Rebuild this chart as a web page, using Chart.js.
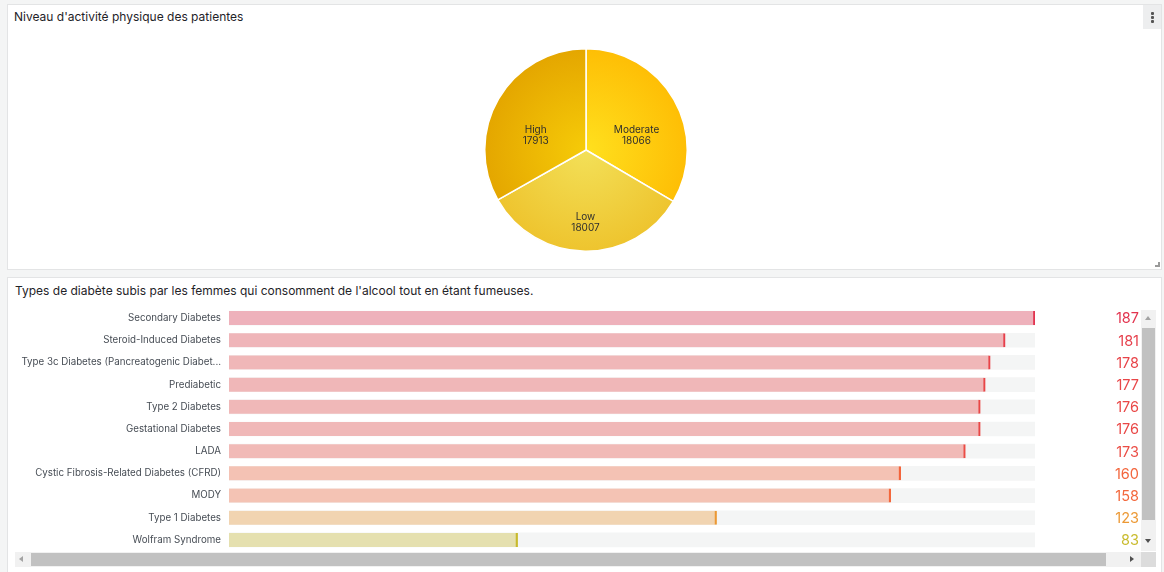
<!DOCTYPE html>
<html>
<head>
<meta charset="utf-8">
<script src="https://cdn.jsdelivr.net/npm/chart.js@4.4.1/dist/chart.umd.min.js"></script>
<style>
  html, body { margin:0; padding:0; width:1164px; height:572px; overflow:hidden; background:#F4F5F5; font-family:Inter, "Noto Sans", sans-serif; }
  .panel { position:absolute; background:#fff; border:1px solid #E3E4E5; box-sizing:border-box; }
  .title { position:absolute; font-size:12px; font-weight:400; color:#1F2328; white-space:nowrap; line-height:14px; }
  canvas { position:absolute; }
  .menu { position:absolute; left:1143px; top:5px; width:18px; height:24px; background:#EDEEEF; }
  .dot { position:absolute; left:8px; width:2.5px; height:2.5px; background:#555; border-radius:1px; }
  .resize { position:absolute; left:1155px; top:262px; width:5px; height:5px; border-right:2px solid #9a9a9a; border-bottom:2px solid #9a9a9a; box-sizing:border-box; }
  .vtrack { position:absolute; left:1141px; top:310px; width:15px; height:241px; background:#F1F1F1; }
  .vthumb { position:absolute; left:1142px; top:328px; width:13px; height:192px; background:#C1C1C1; }
  .htrack { position:absolute; left:15px; top:552px; width:1126px; height:15px; background:#F1F1F1; }
  .hthumb { position:absolute; left:31px; top:553px; width:1075px; height:13px; background:#C1C1C1; }
  .corner { position:absolute; left:1141px; top:552px; width:15px; height:15px; background:#DCDCDC; }
  .arrow { position:absolute; width:0; height:0; }
</style>
</head>
<body>
<div class="panel" style="left:7px; top:4px; width:1155px; height:266px;"></div>
<div class="title" style="left:14px; top:10px;">Niveau d'activité physique des patientes</div>
<div class="menu"><div class="dot" style="top:7px"></div><div class="dot" style="top:11px"></div><div class="dot" style="top:15px"></div></div>
<div class="resize"></div>
<canvas id="pie" width="204" height="204" style="left:484px; top:48px;"></canvas>

<div class="panel" style="left:7px; top:277px; width:1155px; height:300px;"></div>
<div class="title" style="left:15px; top:284px;">Types de diabète subis par les femmes qui consomment de l'alcool tout en étant fumeuses.</div>
<canvas id="bars" width="1132" height="244" style="left:8px; top:307px;"></canvas>
<div class="vtrack"></div>
<div class="vthumb"></div>
<div class="arrow" style="left:1145px; top:316px; border-left:3.5px solid transparent; border-right:3.5px solid transparent; border-bottom:4px solid #A3A3A3;"></div>
<div class="arrow" style="left:1145px; top:539px; border-left:3.5px solid transparent; border-right:3.5px solid transparent; border-top:4px solid #505050;"></div>
<div class="htrack"></div>
<div class="hthumb"></div>
<div class="arrow" style="left:19px; top:556px; border-top:3.5px solid transparent; border-bottom:3.5px solid transparent; border-right:4px solid #A3A3A3;"></div>
<div class="arrow" style="left:1130px; top:556px; border-top:3.5px solid transparent; border-bottom:3.5px solid transparent; border-left:4px solid #505050;"></div>
<div class="corner"></div>

<script>
// ---- data ----
const activityLevels = ['Moderate', 'Low', 'High'];
const activityCounts = [18066, 18007, 17913];

const diabetesTypes = [
  'Secondary Diabetes',
  'Steroid-Induced Diabetes',
  'Type 3c Diabetes (Pancreatogenic Diabetes)',
  'Prediabetic',
  'Type 2 Diabetes',
  'Gestational Diabetes',
  'LADA',
  'Cystic Fibrosis-Related Diabetes (CFRD)',
  'MODY',
  'Type 1 Diabetes',
  'Wolfram Syndrome'
];
const diabetesCounts = [187, 181, 178, 177, 176, 176, 173, 160, 158, 123, 83];
const gaugeMin = 25;
const gaugeMax = 187;

// ---- styles ----
const pieInner = ['#FFE01E', '#F3E058', '#F6CB08'];
const pieOuter = ['#FEBE05', '#EEC42E', '#E4A600'];
const colorStops = [
  [0.00, [115, 191, 105]],
  [0.36, [201, 187, 46]],
  [0.60, [236, 154, 53]],
  [0.83, [243, 102, 60]],
  [1.00, [226, 52, 79]]
];
function scaleColor(v) {
  const f = (v - gaugeMin) / (gaugeMax - gaugeMin);
  for (let i = 1; i < colorStops.length; i++) {
    if (f <= colorStops[i][0]) {
      const [f0, c0] = colorStops[i - 1], [f1, c1] = colorStops[i];
      const t = (f - f0) / (f1 - f0);
      return c0.map((c, k) => Math.round(c + (c1[k] - c) * t));
    }
  }
  return colorStops[colorStops.length - 1][1];
}
const rgb = c => `rgb(${c[0]},${c[1]},${c[2]})`;
const rgba = (c, a) => `rgba(${c[0]},${c[1]},${c[2]},${a})`;

// ---- pie ----
const pieLabelPlugin = {
  id: 'pieLabels',
  afterDatasetsDraw(chart) {
    const ctx = chart.ctx;
    const meta = chart.getDatasetMeta(0);
    ctx.save();
    ctx.font = '10px Inter, "Noto Sans", sans-serif';
    ctx.fillStyle = '#2F2F2F';
    ctx.textAlign = 'center';
    ctx.textBaseline = 'top';
    meta.data.forEach((arc, i) => {
      const p = arc.getProps(['x', 'y', 'startAngle', 'endAngle', 'outerRadius']);
      const mid = (p.startAngle + p.endAngle) / 2;
      const r = p.outerRadius * 0.575;
      const lx = p.x + Math.cos(mid) * r;
      const ly = p.y + Math.sin(mid) * r;
      ctx.fillText(chart.data.labels[i], lx, ly + 4);
      ctx.fillText(String(chart.data.datasets[0].data[i]), lx, ly + 15);
    });
    ctx.restore();
  }
};

new Chart(document.getElementById('pie'), {
  type: 'pie',
  data: {
    labels: activityLevels,
    datasets: [{
      data: activityCounts,
      borderColor: '#ffffff',
      borderWidth: 1.5,
      backgroundColor: (context) => {
        const chart = context.chart;
        const i = context.dataIndex;
        const area = chart.chartArea;
        if (!area) return pieOuter[i];
        const cx = (area.left + area.right) / 2, cy = (area.top + area.bottom) / 2;
        const r = Math.min(area.width, area.height) / 2;
        const g = chart.ctx.createRadialGradient(cx, cy, 0, cx, cy, r);
        g.addColorStop(0, pieInner[i]);
        g.addColorStop(1, pieOuter[i]);
        return g;
      }
    }]
  },
  options: {
    responsive: false,
    animation: false,
    layout: { padding: 0 },
    plugins: { legend: { display: false }, tooltip: { enabled: false } },
    events: []
  },
  plugins: [pieLabelPlugin]
});

// ---- bar gauge ----
const valuePlugin = {
  id: 'values',
  afterDatasetsDraw(chart) {
    const ctx = chart.ctx;
    const yScale = chart.scales.y;
    ctx.save();
    ctx.font = '14.5px Inter, "Noto Sans", sans-serif';
    ctx.textAlign = 'right';
    ctx.textBaseline = 'middle';
    diabetesCounts.forEach((v, i) => {
      ctx.fillStyle = rgb(scaleColor(v));
      ctx.fillText(String(v), chart.width - 1, yScale.getPixelForValue(i) + 1);
    });
    ctx.restore();
  }
};

new Chart(document.getElementById('bars'), {
  type: 'bar',
  data: {
    labels: diabetesTypes,
    datasets: [
      {
        label: 'value',
        data: diabetesCounts.map(v => [gaugeMin, v]),
        backgroundColor: diabetesCounts.map(v => rgba(scaleColor(v), 0.35)),
        borderColor: diabetesCounts.map(v => rgb(scaleColor(v))),
        borderWidth: { top: 0, bottom: 0, left: 0, right: 1.5 },
        borderSkipped: 'start',
        barThickness: 14,
        grouped: false,
        order: 1
      },
      {
        label: 'track',
        data: diabetesCounts.map(() => [gaugeMin, gaugeMax]),
        backgroundColor: '#F4F5F5',
        borderWidth: 0,
        barThickness: 14,
        grouped: false,
        order: 2
      }
    ]
  },
  options: {
    indexAxis: 'y',
    responsive: false,
    animation: false,
    events: [],
    layout: { padding: { left: 0, right: 105, top: 0, bottom: 0 } },
    scales: {
      x: { display: false, min: gaugeMin, max: gaugeMax },
      y: {
        grid: { display: false, drawTicks: false },
        border: { display: false },
        afterFit(scale) {
          scale.width = 221;
          scale.paddingTop = 0;
          scale.paddingBottom = 0;
        },
        ticks: {
          padding: 8,
          autoSkip: false,
          color: '#464C54',
          font: { family: 'Inter, "Noto Sans", sans-serif', size: 9.75 },
          callback(value) {
            const s = this.getLabelForValue(value);
            return s.length > 40 ? s.slice(0, 39) + '...' : s;
          }
        }
      }
    },
    plugins: { legend: { display: false }, tooltip: { enabled: false } }
  },
  plugins: [valuePlugin]
});
</script>
</body>
</html>
